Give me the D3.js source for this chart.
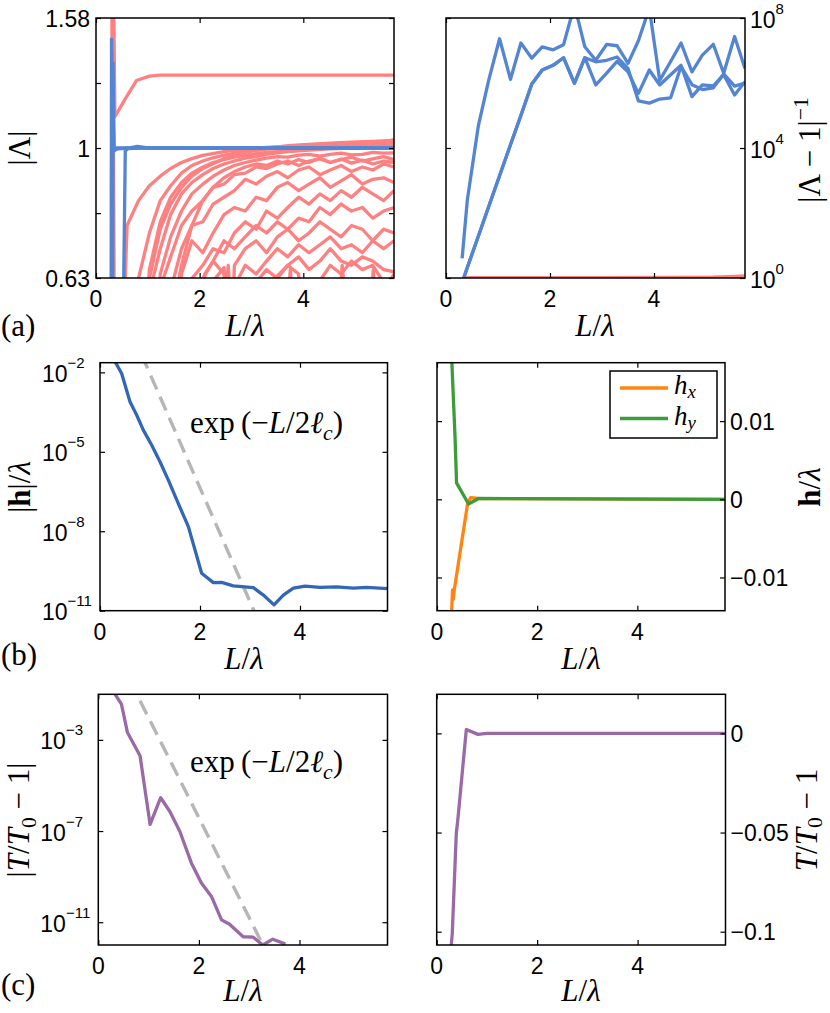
<!DOCTYPE html>
<html><head><meta charset="utf-8">
<script src="https://cdn.jsdelivr.net/npm/d3@7/dist/d3.min.js"></script>
<style>html,body{margin:0;padding:0;background:#fff}svg{display:block}</style>
</head><body>
<svg id="fig" width="830" height="1013" xmlns="http://www.w3.org/2000/svg"></svg>
<script>
// ================= DATA =================
const xTicks = [0, 2, 4];
const xMax = 5.75;

// (a) left: |Λ| vs L/λ, pairs [L/λ, |Λ|]
const lamTicks = [0.631, 0.794, 1, 1.259, 1.585];
const lamTickLabels = ["0.63", "", "1", "", "1.58"];
const lamRed = [
  [[0.3,0.85],[0.31,1.75],[0.34,1.75],[0.365,1.117],[0.55,1.185],[0.78,1.27],[1.03,1.29],[1.24,1.295],[5.75,1.295]],
  [[0.325,1.75],[0.357,0.45]],
  [[0.5,0.45],[0.6,0.76],[0.82,0.83],[1.03,0.875],[1.24,0.905],[1.44,0.93],[1.65,0.95],[1.85,0.963],[2.06,0.974],[2.47,0.987],[2.88,0.996],[3.29,1.002],[3.7,1.007],[4.11,1.011],[4.52,1.015],[4.93,1.018],[5.34,1.021],[5.75,1.024]],
  [[0.72,0.45],[0.82,0.63],[1.03,0.74],[1.24,0.83],[1.44,0.875],[1.65,0.915],[1.85,0.94],[2.06,0.955],[2.26,0.966],[2.47,0.975],[2.88,0.988],[3.29,0.996],[3.7,1.0],[4.11,1.004],[4.52,1.007],[4.93,1.01],[5.34,1.012],[5.75,1.014]],
  [[0.95,0.45],[1.03,0.63],[1.24,0.75],[1.44,0.82],[1.65,0.87],[1.85,0.905],[2.06,0.93],[2.47,0.963],[2.88,0.985],[3.29,1.0],[3.7,1.008],[4.11,1.013],[4.52,1.017],[4.93,1.021],[5.34,1.024],[5.75,1.027]],
  [[0.9,0.45],[1.03,0.65],[1.24,0.77],[1.44,0.84],[1.65,0.885],[1.85,0.915],[2.06,0.935],[2.26,0.95],[2.47,0.96],[2.67,0.968],[2.88,0.975],[3.29,0.985],[3.7,0.99],[4.11,0.995],[4.52,1.0],[4.93,1.005],[5.34,1.01],[5.75,1.03]],
  [[1.0,0.45],[1.1,0.63],[1.24,0.7],[1.44,0.79],[1.65,0.85],[1.85,0.885],[2.06,0.91],[2.26,0.93],[2.47,0.945],[2.67,0.955],[2.88,0.965],[3.09,0.97],[3.29,0.978],[3.5,0.983],[3.7,0.987],[4.11,0.993],[4.52,0.997],[4.93,1.0],[5.34,1.003],[5.75,1.005]],
  [[1.1,0.45],[1.24,0.64],[1.44,0.73],[1.65,0.8],[1.85,0.85],[2.06,0.88],[2.26,0.905],[2.47,0.925],[2.67,0.94],[2.88,0.95],[3.09,0.958],[3.29,0.965],[3.5,0.97],[3.7,0.968],[3.91,0.975],[4.11,0.978],[4.32,0.972],[4.52,0.978],[4.73,0.982],[4.93,0.976],[5.14,0.978],[5.34,0.985],[5.55,0.982],[5.75,0.983]],
  [[1.2,0.45],[1.3,0.63],[1.44,0.68],[1.65,0.76],[1.85,0.8],[2.06,0.83],[2.26,0.87],[2.47,0.88],[2.67,0.91],[2.88,0.915],[3.09,0.935],[3.29,0.93],[3.5,0.945],[3.7,0.955],[3.91,0.94],[4.11,0.955],[4.32,0.962],[4.52,0.95],[4.73,0.96],[4.93,0.968],[5.14,0.955],[5.34,0.962],[5.55,0.97],[5.75,0.96]],
  [[1.5,0.45],[1.6,0.63],[1.65,0.66],[1.85,0.76],[2.06,0.83],[2.26,0.87],[2.47,0.9],[2.67,0.92],[2.88,0.935],[3.09,0.945],[3.29,0.94],[3.5,0.955],[3.7,0.945],[3.91,0.96],[4.11,0.95],[4.32,0.965],[4.52,0.95],[4.73,0.962],[4.93,0.948],[5.14,0.958],[5.34,0.945],[5.55,0.955],[5.75,0.95]],
  [[1.4,0.45],[1.5,0.63],[1.65,0.7],[1.85,0.76],[2.06,0.77],[2.26,0.82],[2.47,0.84],[2.67,0.86],[2.88,0.895],[3.09,0.88],[3.29,0.905],[3.5,0.92],[3.7,0.9],[3.91,0.925],[4.11,0.935],[4.32,0.91],[4.52,0.925],[4.73,0.94],[4.93,0.92],[5.14,0.935],[5.34,0.925],[5.55,0.945],[5.75,0.935]],
  [[1.55,0.45],[1.65,0.64],[1.85,0.72],[2.06,0.69],[2.26,0.74],[2.47,0.79],[2.67,0.81],[2.88,0.8],[3.09,0.84],[3.29,0.83],[3.5,0.87],[3.7,0.885],[3.91,0.86],[4.11,0.88],[4.32,0.9],[4.52,0.87],[4.73,0.89],[4.93,0.91],[5.14,0.88],[5.34,0.895],[5.55,0.9],[5.75,0.885]],
  [[1.75,0.45],[1.85,0.63],[2.06,0.66],[2.26,0.7],[2.47,0.69],[2.67,0.74],[2.88,0.77],[3.09,0.75],[3.29,0.8],[3.5,0.78],[3.7,0.81],[3.91,0.84],[4.11,0.82],[4.32,0.85],[4.52,0.83],[4.73,0.86],[4.93,0.84],[5.14,0.87],[5.34,0.85],[5.55,0.83],[5.75,0.86]],
  [[1.95,0.45],[2.06,0.63],[2.26,0.67],[2.47,0.72],[2.67,0.7],[2.88,0.73],[3.09,0.76],[3.29,0.74],[3.5,0.77],[3.7,0.75],[3.91,0.78],[4.11,0.77],[4.32,0.81],[4.52,0.79],[4.73,0.82],[4.93,0.8],[5.14,0.81],[5.34,0.78],[5.55,0.8],[5.75,0.81]],
  [[2.0,0.45],[2.1,0.64],[2.26,0.67],[2.47,0.64],[2.55,0.45]],
  [[2.6,0.45],[2.67,0.66],[2.88,0.7],[3.09,0.72],[3.29,0.69],[3.5,0.73],[3.7,0.75],[3.91,0.72],[4.11,0.74],[4.32,0.77],[4.52,0.75],[4.73,0.73],[4.93,0.76],[5.14,0.75],[5.34,0.72],[5.55,0.75],[5.75,0.74]],
  [[2.6,0.45],[2.75,0.63],[2.88,0.66],[3.09,0.64],[3.29,0.67],[3.5,0.7],[3.7,0.68],[3.91,0.71],[4.11,0.69],[4.32,0.71],[4.52,0.73],[4.73,0.7],[4.93,0.71],[5.14,0.69],[5.34,0.72],[5.55,0.7],[5.75,0.72]],
  [[3.0,0.45],[3.15,0.63],[3.29,0.65],[3.5,0.63],[3.7,0.66],[3.91,0.68],[4.11,0.65],[4.32,0.67],[4.52,0.7],[4.73,0.67],[4.93,0.66],[5.14,0.68],[5.34,0.67],[5.55,0.65],[5.75,0.645]],
  [[3.3,0.45],[3.45,0.63],[3.7,0.66],[3.91,0.64],[4.0,0.45]],
  [[4.2,0.45],[4.35,0.63],[4.52,0.66],[4.73,0.64],[4.93,0.67],[5.14,0.65],[5.34,0.66],[5.5,0.63],[5.6,0.45]],
  [[2.2,0.45],[2.3,0.63],[2.47,0.655],[2.6,0.45]],
  [[2.4,0.45],[2.55,0.66],[2.7,0.45]],
  [[3.6,0.45],[3.75,0.65],[3.9,0.45]],
  [[4.6,0.45],[4.75,0.66],[4.95,0.45]],
  [[5.2,0.45],[5.35,0.65],[5.5,0.45]],
  [[5.6,0.45],[5.7,0.63],[5.75,0.64]]
];
const lamBlue = [
  [[0.29,0.5],[0.3,1.47],[0.345,0.99],[0.41,0.997],[0.62,1.0],[0.8,1.006],[1.03,1.0],[5.75,1.0]],
  [[0.32,0.5],[0.33,1.35],[0.35,1.0],[5.75,1.0]],
  [[0.52,0.5],[0.565,0.99],[0.62,0.998],[0.82,1.0],[5.75,1.0]]
];

// (a) right: |Λ − 1|^-1 vs L/λ
const invTicks = [1, 1e4, 1e8];
const invTickExp = ["0", "4", "8"];
const invBlue = [
  [[0.31,4.0],[0.41,250],[0.62,4.6e4],[0.82,1.2e6],[1.03,2.3e7],[1.24,1.3e6],[1.44,1.7e7],[1.65,5.8e6],[1.85,1.3e7],[2.06,1.05e7],[2.26,1.5e7],[2.47,2.5e8],[2.67,1.3e7],[2.88,5.0e6],[3.09,1.55e7],[3.29,1.4e7],[3.5,4.0e6],[3.7,2.0e7],[3.91,2.0e8],[4.11,1.2e6],[4.32,4.6e6],[4.52,1.7e7],[4.73,2.2e6],[4.93,7.2e6],[5.14,1.55e7],[5.34,2.0e6],[5.55,2.7e7],[5.75,2.8e6]],
  [[0.34,1.0],[0.41,2.1],[0.62,19],[0.82,155],[1.03,1.4e3],[1.24,1.26e4],[1.44,1.0e5],[1.65,9.3e5],[1.85,2.5e6],[2.06,3.5e6],[2.26,6.0e6],[2.47,9.8e5],[2.67,6.0e6],[2.88,8.7e5],[3.09,2.0e6],[3.29,4.6e6],[3.5,2.2e6],[3.7,4.8e5],[3.91,2.5e6],[4.11,8.7e5],[4.32,1.8e6],[4.52,3.5e6],[4.73,3.8e5],[4.93,8.7e5],[5.14,8.1e5],[5.34,1.8e6],[5.55,4.3e5],[5.75,1.1e6]],
  [[0.34,1.0],[0.41,2.1],[0.62,19],[0.82,155],[1.03,1.4e3],[1.24,1.26e4],[1.44,1.0e5],[1.65,9.3e5],[1.85,2.5e6],[2.06,3.5e6],[2.26,6.0e6],[2.47,9.8e5],[2.67,6.0e6],[2.88,4.5e6],[3.09,5.0e6],[3.29,6.3e6],[3.5,2.8e6],[3.7,2.8e5],[3.91,2.4e5],[4.11,3.2e5],[4.32,3.5e5],[4.52,3.2e6],[4.73,8.9e5],[4.93,6.3e5],[5.14,7.1e5],[5.34,1.9e6],[5.55,8.0e5],[5.75,1.0e6]]
];
const invRed = [
  [[0.34,1.02],[1.03,1.03],[2.06,1.03],[3.09,1.03],[4.11,1.04],[5.14,1.06],[5.55,1.12],[5.75,1.16]],
  [[0.34,1.01],[2.06,1.02],[4.11,1.02],[5.75,1.05]]
];

// (b) left: |h|/λ
const hAbsTicks = [1e-11, 1e-8, 1e-5, 1e-2];
const hAbsExp = ["−11", "−8", "−5", "−2"];
const hAbs = [[0.28,3.0e-2],[0.433,9.1e-3],[0.6,7.8e-4],[0.733,2.45e-4],[0.867,6.6e-5],[1.033,1.8e-5],[1.2,4.2e-6],[1.367,8.5e-7],[1.567,1.1e-7],[1.767,1.5e-8],[2.033,2.6e-10],[2.267,1.15e-10],[2.433,1.17e-10],[2.667,8.7e-11],[3.067,7.4e-11],[3.267,3.9e-11],[3.48,1.66e-11],[3.667,3.9e-11],[3.867,7.1e-11],[4.1,8.5e-11],[4.4,7.6e-11],[4.733,7.9e-11],[5.067,7.1e-11],[5.333,7.6e-11],[5.75,6.8e-11]];
const hDecay = [[0.83,4.7e-2],[3.2,3.0e-12]];

// (b) right: h/λ components
const hTicks = [-0.01, 0, 0.01];
const hTickLabels = ["−0.01", "0", "0.01"];
const hx = [[0.285,-0.0155],[0.31,-0.0116],[0.325,-0.0128],[0.345,-0.0116],[0.61,-0.0006],[0.67,0.0002],[0.83,0.0001],[5.75,0]];
const hy = [[0.29,0.0185],[0.36,0.008],[0.39,0.0021],[0.63,-0.0006],[0.83,0.0001],[5.75,0]];

// (c) left: |T/T0 − 1|
const tAbsTicks = [1e-11, 1e-7, 1e-3];
const tAbsExp = ["−11", "−7", "−3"];
const tAbs = [[0.31,0.12],[0.46,3.7e-2],[0.58,2.1e-3],[0.83,2.0e-4],[1.03,1.95e-7],[1.24,2.9e-6],[1.42,7.4e-7],[1.62,9.8e-8],[1.85,4.0e-9],[2.05,5.2e-10],[2.25,1.35e-10],[2.45,1.26e-11],[2.61,8.1e-12],[2.88,2.3e-12],[3.08,2.2e-12],[3.27,1.0e-12],[3.47,1.8e-12],[3.72,1.1e-12]];
const tDecay = [[0.83,5.2e-2],[3.3,7.6e-13]];

// (c) right: T/T0 − 1
const tTicks = [-0.1, -0.05, 0];
const tTickLabels = ["−0.1", "−0.05", "0"];
const tRel = [[0.28,-0.11],[0.31,-0.1008],[0.39,-0.0504],[0.42,-0.0437],[0.59,0.002],[0.82,-0.0005],[1.0,0],[5.75,0]];

// ================= DRAWING =================
const SANS = '"Liberation Sans", Arial, Helvetica, sans-serif';
const SERIF = '"Liberation Serif", "DejaVu Serif", serif';
const C = {red:"#FF8080", blueA:"#5485D3", blueB:"#3466B6", orange:"#FF8412", green:"#3C9C3A", purple:"#9A6AA8", gray:"#B6B6B6"};
const LW = 3.3, TF = 23, MF = 31;
const svg = d3.select("#fig");
svg.append("rect").attr("width",830).attr("height",1013).attr("fill","#fff");

let clipN = 0;
function panel(cfg){
  const x = d3.scaleLinear().domain([0,xMax]).range([cfg.x0,cfg.x1]);
  const y = (cfg.log ? d3.scaleLog() : d3.scaleLinear()).domain(cfg.dom).range([cfg.y1,cfg.y0]);
  const id = "clip"+(clipN++);
  svg.append("clipPath").attr("id",id).append("rect")
     .attr("x",cfg.x0).attr("y",cfg.y0).attr("width",cfg.x1-cfg.x0).attr("height",cfg.y1-cfg.y0);
  const plot = svg.append("g").attr("clip-path",`url(#${id})`);
  const axes = svg.append("g");
  return {x,y,plot,axes,cfg};
}
function finishAxes(p, yTicks){
  const {x,y,axes,cfg} = p;
  const mk = (gen, tx, ty, vals) => {
    const g = axes.append("g").attr("transform",`translate(${tx},${ty})`)
      .call(gen.tickValues(vals).tickSizeInner(-5).tickSizeOuter(0).tickFormat(""));
    g.select(".domain").remove();
    g.selectAll("line").attr("stroke","#000").attr("stroke-width",1.2);
  };
  mk(d3.axisBottom(x),0,cfg.y1,xTicks);
  mk(d3.axisTop(x),0,cfg.y0,xTicks);
  mk(d3.axisLeft(y),cfg.x0,0,yTicks);
  mk(d3.axisRight(y),cfg.x1,0,yTicks);
  axes.append("rect").attr("x",cfg.x0).attr("y",cfg.y0).attr("width",cfg.x1-cfg.x0).attr("height",cfg.y1-cfg.y0)
     .attr("fill","none").attr("stroke","#000").attr("stroke-width",1.5);
  xTicks.forEach(v=>{
    axes.append("text").attr("x",x(v)).attr("y",cfg.y1+29).attr("text-anchor","middle")
      .attr("font-family",SANS).attr("font-size",TF).text(v);
  });
}
function drawLine(p, data, color, opts={}){
  const line = d3.line().x(d=>p.x(d[0])).y(d=>p.y(d[1]));
  const path = p.plot.append("path").datum(data).attr("d",line).attr("fill","none")
    .attr("stroke",color).attr("stroke-width",opts.w||LW).attr("stroke-linejoin","round").attr("stroke-linecap","butt");
  if(opts.dash) path.attr("stroke-dasharray",opts.dash);
}
function linLabels(p, ticks, labels, side){
  ticks.forEach((v,i)=>{
    if(!labels[i]) return;
    const t = p.axes.append("text").attr("y",p.y(v)+8.5).attr("font-family",SANS).attr("font-size",TF).text(labels[i]);
    if(side==="left") t.attr("x",p.cfg.x0-6).attr("text-anchor","end");
    else t.attr("x",p.cfg.x1+5).attr("text-anchor","start");
  });
}
function logLabels(p, ticks, exps, side){
  ticks.forEach((v,i)=>{
    const xs = side==="left" ? p.cfg.x0-58 : p.cfg.x1+5;
    const t = p.axes.append("text").attr("x",xs).attr("y",p.y(v)+9.5).attr("font-family",SANS).attr("font-size",TF);
    t.append("tspan").text("10");
    t.append("tspan").attr("font-size",15).attr("dy",-14).text(exps[i]);
  });
}
// math-like text: segs = [[text, {i,b,sub,sup}]]
function mathText(x, y, segs, opt={}){
  const size = opt.size || MF;
  const subShift = opt.subShift || 0.22;
  const t = svg.append("text").attr("font-family",SERIF).attr("font-size",size)
    .attr("text-anchor",opt.anchor||"start");
  if(opt.rot) t.attr("transform",`translate(${x},${y}) rotate(${opt.rot})`);
  else t.attr("x",x).attr("y",y);
  let shift = 0;
  segs.forEach(([s,o])=>{
    o = o||{};
    const target = o.sub ? size*subShift : (o.sup ? -size*0.4 : 0);
    const ts = t.append("tspan").text(s);
    if(target!==shift){ ts.attr("dy",target-shift); shift=target; }
    if(o.sub||o.sup) ts.attr("font-size",size*0.7);
    if(o.i) ts.attr("font-style","italic");
    if(o.b) ts.attr("font-weight","bold");
  });
  return t;
}
const xLabel = [["L",{i:1}],["/"],["λ",{i:1}]];
const expLabel = [["exp"],["\u2009("],["−"],["L",{i:1}],["/2"],["ℓ",{i:1}],["c",{i:1,sub:1}],[")"]];

// ---- (a) left
const pA = panel({x0:96,x1:394,y0:18,y1:278,log:true,dom:[0.631,1.585]});
lamRed.forEach(d=>drawLine(pA,d,C.red));
lamBlue.forEach(d=>drawLine(pA,d,C.blueA));
finishAxes(pA, lamTicks);
linLabels(pA, lamTicks, lamTickLabels, "left");
mathText(30, 148, [["|Λ|"]], {rot:-90, anchor:"middle"});
mathText(245, 336, xLabel, {anchor:"middle"});
mathText(1, 336, [["(a)"]]);

// ---- (a) right
const pAR = panel({x0:446,x1:745,y0:18,y1:278,log:true,dom:[1,1e8]});
invRed.forEach(d=>drawLine(pAR,d,C.red));
invBlue.forEach(d=>drawLine(pAR,d,C.blueA));
finishAxes(pAR, invTicks);
logLabels(pAR, invTicks, invTickExp, "right");
mathText(820, 150, [["|Λ − 1|"],["−1",{sup:1}]], {rot:-90, anchor:"middle"});
mathText(595, 336, xLabel, {anchor:"middle"});

// ---- (b) left
const pB = panel({x0:100,x1:387.5,y0:362.7,y1:610.7,log:true,dom:[1e-11,0.0232]});
drawLine(pB, hDecay, C.gray, {dash:"15,8", w:3.4});
drawLine(pB, hAbs, C.blueB);
finishAxes(pB, hAbsTicks);
logLabels(pB, hAbsTicks, hAbsExp, "left");
mathText(30, 487, [["|"],["h",{b:1}],["|/"],["λ",{i:1}]], {rot:-90, anchor:"middle"});
mathText(244, 669, xLabel, {anchor:"middle"});
mathText(1, 665, [["(b)"]]);
mathText(190, 433, expLabel);

// ---- (b) right
const pBR = panel({x0:437,x1:725,y0:362.7,y1:610.7,log:false,dom:[-0.01425,0.01747]});
drawLine(pBR, hx, C.orange);
drawLine(pBR, hy, C.green);
finishAxes(pBR, hTicks);
linLabels(pBR, hTicks, hTickLabels, "right");
mathText(820, 487, [["h",{b:1}],["/"],["λ",{i:1}]], {rot:-90, anchor:"middle"});
mathText(581, 669, xLabel, {anchor:"middle"});
// legend
const lg = svg.append("g");
lg.append("rect").attr("x",610).attr("y",371).attr("width",107).attr("height",67)
  .attr("fill","#fff").attr("stroke","#000").attr("stroke-width",1.5);
[[C.orange,388,"x"],[C.green,418.5,"y"]].forEach(([c,yy,s])=>{
  lg.append("line").attr("x1",620).attr("x2",668).attr("y1",yy).attr("y2",yy).attr("stroke",c).attr("stroke-width",LW);
  mathText(674, yy+6, [["h",{i:1}],[s,{i:1,sub:1}]], {size:27, subShift:0.16});
});

// ---- (c) left
const pC = panel({x0:98.3,x1:387.5,y0:694.3,y1:945,log:true,dom:[1e-12,0.1]});
drawLine(pC, tDecay, C.gray, {dash:"15,8", w:3.4});
drawLine(pC, tAbs, C.purple);
finishAxes(pC, tAbsTicks);
logLabels(pC, tAbsTicks, tAbsExp, "left");
mathText(29, 820, [["|"],["T",{i:1}],["/"],["T",{i:1}],["0",{sub:1}],[" − 1|"]], {rot:-90, anchor:"middle"});
mathText(243, 1001, xLabel, {anchor:"middle"});
mathText(1, 995, [["(c)"]]);
mathText(190, 772, expLabel);

// ---- (c) right
const pCR = panel({x0:436.7,x1:725.5,y0:694.3,y1:945,log:false,dom:[-0.1067,0.0197]});
drawLine(pCR, tRel, C.purple);
finishAxes(pCR, tTicks);
linLabels(pCR, tTicks, tTickLabels, "right");
mathText(817, 820, [["T",{i:1}],["/"],["T",{i:1}],["0",{sub:1}],[" − 1"]], {rot:-90, anchor:"middle", subShift:0.16});
mathText(581, 1001, xLabel, {anchor:"middle"});
</script>
</body></html>
